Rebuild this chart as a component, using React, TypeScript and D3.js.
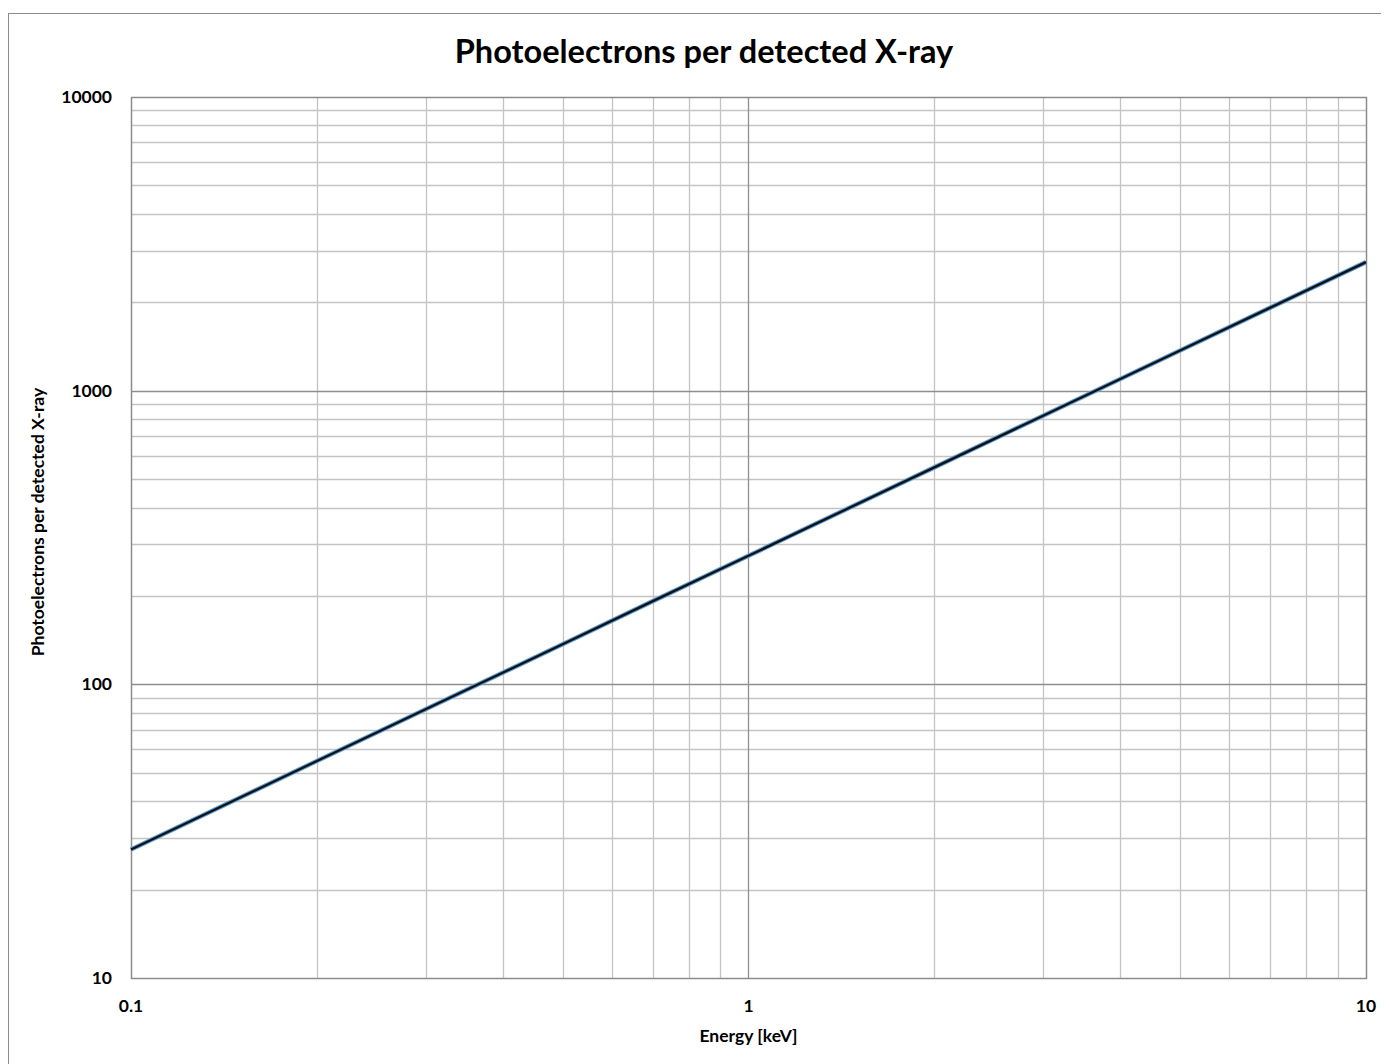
import React, { useEffect, useRef } from 'react';
import * as d3 from 'd3';

// values (log-log, straight line)
const energies = [0.1, 0.2, 0.3, 0.5, 0.7, 1, 2, 3, 5, 7, 10];
const electronsFit = [27.4, 54.8, 82.2, 137, 192, 274, 548, 822, 1370, 1918, 2740];
const electronsCalc = [27.4, 54.8, 82.2, 137, 192, 274, 548, 822, 1370, 1918, 2740];

const xTickLabels = ['0.1', '1', '10'];
const yTickLabels = ['10', '100', '1000', '10000'];

const FONT = 'Lato, "Open Sans", sans-serif';

const App = () => {
  const svgRef = useRef<SVGSVGElement>(null);
  const width = 1381;
  const height = 1056;

  useEffect(() => {
    const svg = d3.select(svgRef.current);
    svg.selectAll('*').remove();

    const margin = { top: 89, left: 123, right: 1358, bottom: 970 };

    // outer chart frame (runs past the window on right and bottom)
    svg.append('rect')
      .attr('x', 0.5)
      .attr('y', 5.5)
      .attr('width', 1400)
      .attr('height', 1100)
      .attr('fill', 'white')
      .attr('stroke', '#8c8c8c')
      .attr('stroke-width', 1);

    const x = d3.scaleLog().domain([0.1, 10]).range([margin.left, margin.right]);
    const y = d3.scaleLog().domain([10, 10000]).range([margin.bottom, margin.top]);

    const g = svg.append('g');

    // minor grid
    const xMinor: number[] = [];
    const yMinor: number[] = [];
    for (let d = 0.1; d < 10; d *= 10) {
      for (let k = 2; k <= 9; k++) xMinor.push(+(d * k).toPrecision(3));
    }
    for (let d = 10; d < 10000; d *= 10) {
      for (let k = 2; k <= 9; k++) yMinor.push(d * k);
    }

    g.selectAll('.xminor').data(xMinor).enter().append('line')
      .attr('x1', d => Math.round(x(d)) + 0.5).attr('x2', d => Math.round(x(d)) + 0.5)
      .attr('y1', margin.top).attr('y2', margin.bottom)
      .attr('stroke', '#c4c4c4').attr('stroke-width', 1.3);

    g.selectAll('.yminor').data(yMinor).enter().append('line')
      .attr('y1', d => Math.round(y(d)) + 0.5).attr('y2', d => Math.round(y(d)) + 0.5)
      .attr('x1', margin.left).attr('x2', margin.right)
      .attr('stroke', '#c4c4c4').attr('stroke-width', 1.3);

    // major grid
    g.selectAll('.xmajor').data([1]).enter().append('line')
      .attr('x1', d => Math.round(x(d)) + 0.5).attr('x2', d => Math.round(x(d)) + 0.5)
      .attr('y1', margin.top).attr('y2', margin.bottom)
      .attr('stroke', '#8f8f8f').attr('stroke-width', 1.3);

    g.selectAll('.ymajor').data([100, 1000]).enter().append('line')
      .attr('y1', d => Math.round(y(d)) + 0.5).attr('y2', d => Math.round(y(d)) + 0.5)
      .attr('x1', margin.left).attr('x2', margin.right)
      .attr('stroke', '#8f8f8f').attr('stroke-width', 1.3);

    // plot border
    g.append('rect')
      .attr('x', margin.left + 0.5)
      .attr('y', margin.top + 0.5)
      .attr('width', margin.right - margin.left)
      .attr('height', margin.bottom - margin.top)
      .attr('fill', 'none')
      .attr('stroke', '#8c8c8c')
      .attr('stroke-width', 1.5);

    const line = d3.line<number>()
      .x((d, i) => x(energies[i]))
      .y(d => y(d));

    g.append('path')
      .datum(electronsFit)
      .attr('d', line)
      .attr('fill', 'none')
      .attr('stroke', '#5b9bd5')
      .attr('stroke-width', 4.5);

    g.append('path')
      .datum(electronsCalc)
      .attr('d', line)
      .attr('fill', 'none')
      .attr('stroke', '#111111')
      .attr('stroke-width', 2.3);

    // tick labels
    g.selectAll('.ylab').data(yTickLabels).enter().append('text')
      .attr('x', 104)
      .attr('y', d => y(+d) + 6)
      .attr('text-anchor', 'end')
      .style('font-family', FONT)
      .style('font-weight', 'bold')
      .style('font-size', '17.5px')
      .style('fill', '#000')
      .text(d => d);

    g.selectAll('.xlab').data(xTickLabels).enter().append('text')
      .attr('x', d => x(+d))
      .attr('y', 1004)
      .attr('text-anchor', 'middle')
      .style('font-family', FONT)
      .style('font-weight', 'bold')
      .style('font-size', '17.5px')
      .style('fill', '#000')
      .text(d => d);

    // title
    svg.append('text')
      .attr('x', 696)
      .attr('y', 55)
      .attr('text-anchor', 'middle')
      .style('font-family', FONT)
      .style('font-weight', 'bold')
      .style('font-size', '32.5px')
      .style('fill', '#000')
      .text('Photoelectrons per detected X-ray');

    // axis titles
    svg.append('text')
      .attr('x', (margin.left + margin.right) / 2)
      .attr('y', 1034)
      .attr('text-anchor', 'middle')
      .style('font-family', FONT)
      .style('font-weight', 'bold')
      .style('font-size', '17.5px')
      .style('fill', '#000')
      .text('Energy [keV]');

    svg.append('text')
      .attr('transform', `translate(36, ${514}) rotate(-90)`)
      .attr('text-anchor', 'middle')
      .style('font-family', FONT)
      .style('font-weight', 'bold')
      .style('font-size', '17.5px')
      .style('fill', '#000')
      .text('Photoelectrons per detected X-ray');
  }, []);

  return (
    <svg ref={svgRef} width={width} height={height} style={{ display: 'block' }} />
  );
};

export default App;
